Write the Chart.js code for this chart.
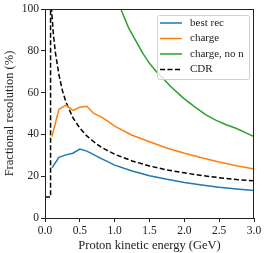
<!DOCTYPE html>
<html>
<head>
<meta charset="utf-8">
<script src="https://cdn.jsdelivr.net/npm/chart.js@4.4.1/dist/chart.umd.min.js"></script>
<style>
html,body{margin:0;padding:0;background:#fff;}
#c{display:block;}
</style>
</head>
<body>
<canvas id="c" width="266" height="253"></canvas>
<script>
// ---- data ----
const energyMain = [0.1,0.2,0.3,0.4,0.5,0.6,0.7,0.8,0.9,1.0,1.25,1.5,1.75,2.0,2.25,2.5,2.75,3.0];
const bestRec    = [24,29,30.2,31,33,32,30.3,28.5,27,25.3,22.5,20.2,18.5,17,15.8,14.7,13.9,13.1];
const charge     = [39,52,54,51.5,53,53.5,50,48.5,46.3,44,39.6,36.5,33.5,31,28.8,26.8,25,23.4];
const energyNoN  = [1.0,1.1,1.2,1.3,1.4,1.5,1.6,1.7,1.8,1.9,2.0,2.15,2.3,2.45,2.6,2.75,2.9,3.0];
const chargeNoN  = [108,99,91,85,79,74,70,66.6,63,60,57,53.2,49.6,46.8,44.6,42.8,40.5,39];
const energyCDR  = [0,0.08,0.08,0.09,0.1,0.12,0.15,0.2,0.25,0.3,0.4,0.5,0.6,0.7,0.8,0.9,1.0,1.25,1.5,1.75,2.0,2.25,2.5,2.75,3.0];
const cdr        = [10,10,108,102,97,88,79,68.5,61,55.5,48,43,39.3,36.5,34,32.2,30.5,27.3,24.9,23,21.6,20.3,19.3,18.4,17.8];
const seriesLabels = ['best rec','charge','charge, no n','CDR'];
const xTicks = [0,0.5,1.0,1.5,2.0,2.5,3.0];
const yTicks = [0,20,40,60,80,100];

const pts = (xs, ys) => xs.map((x, i) => ({x: x, y: ys[i]}));

const frame = {
  id: 'frame',
  afterDatasetsDraw(chart) {
    const a = chart.chartArea, ctx = chart.ctx;
    ctx.save();
    ctx.strokeStyle = '#222';
    ctx.lineWidth = 1;
    ctx.strokeRect(Math.round(a.left) + 0.5, Math.round(a.top) + 0.5,
                   Math.round(a.right - a.left) - 1, Math.round(a.bottom - a.top));
    ctx.restore();
  },
  afterDraw(chart) {
    const ctx = chart.ctx, a = chart.chartArea;
    const bx = a.right - 97, by = a.top + 6, bw = 92, bh = 64;
    ctx.save();
    ctx.beginPath();
    if (ctx.roundRect) ctx.roundRect(bx + 0.5, by + 0.5, bw, bh, 2); else ctx.rect(bx + 0.5, by + 0.5, bw, bh);
    ctx.fillStyle = 'rgba(255,255,255,0.8)';
    ctx.fill();
    ctx.strokeStyle = '#d0d0d0';
    ctx.lineWidth = 1;
    ctx.stroke();
    ctx.font = '11px "Liberation Serif"';
    ctx.textBaseline = 'middle';
    chart.data.datasets.forEach((ds, i) => {
      const y = by + 8 + i * 15.5;
      ctx.beginPath();
      ctx.setLineDash(ds.borderDash || []);
      ctx.strokeStyle = ds.borderColor;
      ctx.lineWidth = 1.5;
      ctx.moveTo(bx + 3, y);
      ctx.lineTo(bx + 25, y);
      ctx.stroke();
      ctx.setLineDash([]);
      ctx.fillStyle = '#222';
      ctx.fillText(ds.label, bx + 33, y);
    });
    ctx.restore();
  }
};

new Chart(document.getElementById('c'), {
  type: 'line',
  data: {
    datasets: [
      {label: seriesLabels[0], data: pts(energyMain, bestRec), borderColor: '#1f77b4'},
      {label: seriesLabels[1], data: pts(energyMain, charge), borderColor: '#ff7f0e'},
      {label: seriesLabels[2], data: pts(energyNoN, chargeNoN), borderColor: '#2ca02c'},
      {label: seriesLabels[3], data: pts(energyCDR, cdr), borderColor: '#000', borderDash: [5, 2.5]}
    ]
  },
  options: {
    responsive: false,
    animation: false,
    devicePixelRatio: 1,
    layout: {padding: {left: 0, right: 12, top: 9, bottom: 0}},
    elements: {
      line: {borderWidth: 1.5, tension: 0, fill: false},
      point: {radius: 0, hoverRadius: 0}
    },
    plugins: {legend: {display: false}, tooltip: {enabled: false}},
    scales: {
      x: {
        type: 'linear', min: 0, max: 3,
        afterBuildTicks: s => { s.ticks = xTicks.map(v => ({value: v})); },
        afterFit: s => { s.height = 35; },
        ticks: {callback: v => v.toFixed(1), color: '#222', font: {family: 'Liberation Serif', size: 11.5}, padding: 2, maxRotation: 0},
        grid: {drawOnChartArea: false, drawTicks: true, tickLength: 4, tickColor: '#222'},
        border: {display: true, color: '#222', width: 1},
        title: {display: true, text: 'Proton kinetic energy (GeV)', color: '#222', font: {family: 'Liberation Serif', size: 12.5}, padding: {top: 0, bottom: 0}}
      },
      y: {
        type: 'linear', min: 0, max: 100,
        afterBuildTicks: s => { s.ticks = yTicks.map(v => ({value: v})); },
        afterFit: s => { s.width = 45; },
        ticks: {color: '#222', font: {family: 'Liberation Serif', size: 11.5}, padding: 2},
        grid: {drawOnChartArea: false, drawTicks: true, tickLength: 4, tickColor: '#222'},
        border: {display: true, color: '#222', width: 1},
        title: {display: true, text: 'Fractional resolution (%)', color: '#222', font: {family: 'Liberation Serif', size: 12.5}, padding: {top: 2, bottom: 0}}
      }
    }
  },
  plugins: [frame]
});
</script>
</body>
</html>
